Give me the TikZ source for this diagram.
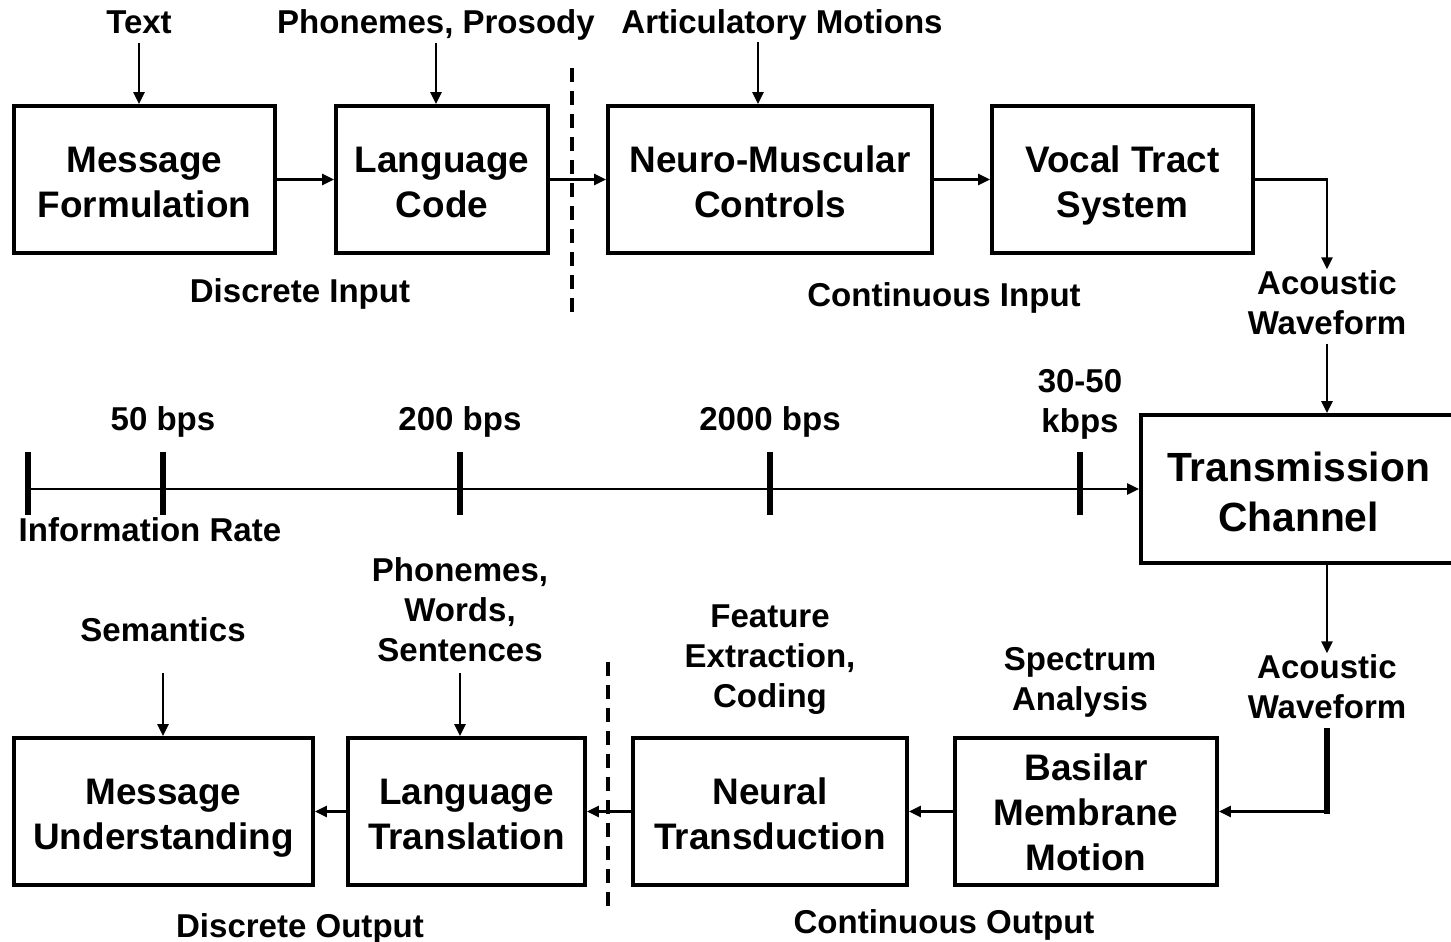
\documentclass[tikz,border=0pt]{standalone}
\usepackage{fontspec}
\setmainfont{Liberation Sans}
\usetikzlibrary{arrows.meta}

\newcommand{\lblstrut}{\rule[-2.5pt]{0pt}{9.23pt}}

\tikzset{
    blk/.style={draw, line width=1.1pt, minimum height=1.47cm, inner sep=0pt, align=center,
        text height=22.28pt, text depth=0.54pt,
        font=\fontsize{10.5}{12.8}\selectfont\bfseries},
    lbl/.style={inner sep=0pt, align=center, yshift=-0.4mm,
        execute at begin node=\lblstrut, execute at end node=\lblstrut,
        font=\fontsize{9.4}{11.4}\selectfont\bfseries},
    conn/.style={line width=0.75pt, -{Triangle[length=1.2mm,width=1.1mm]}},
    ratetick/.style={line width=1.7pt},
    divider/.style={line width=1pt, dash pattern=on 1.4mm off 0.9mm}
}

\begin{document}
\begin{tikzpicture}[x=1cm,y=1cm]
                \useasboundingbox (0,0) rectangle (14.51,-9.42);
                
                % Speech production chain
                \node (msgform) [blk, minimum width=2.61cm] at (1.445,-1.795) {Message\\Formulation};
                \node (langcode) [blk, minimum width=2.12cm] at (4.42,-1.795) {Language\\Code};
                \node (neuro) [blk, minimum width=3.24cm] at (7.70,-1.795) {Neuro-Muscular\\Controls};
                \node (vocal) [blk, minimum width=2.61cm] at (11.225,-1.795) {Vocal Tract\\System};
                
                % Channel
                \node (trans) [blk, minimum width=3.15cm, minimum height=1.48cm,
                    text height=24.6pt, text depth=0.6pt,
                    font=\fontsize{11.6}{14.2}\selectfont\bfseries] at (12.985,-4.89) {Transmission\\Channel};
                
                % Speech perception chain
                \node (msgund) [blk, minimum width=2.99cm] at (1.635,-8.115) {Message\\Understanding};
                \node (langtr) [blk, minimum width=2.37cm] at (4.665,-8.115) {Language\\Translation};
                \node (neural) [blk, minimum width=2.74cm] at (7.70,-8.115) {Neural\\Transduction};
                \node (basilar) [blk, minimum width=2.62cm, text height=34.24pt] at (10.86,-8.115) {Basilar\\Membrane\\Motion};
                
                % Inputs on top
                \node (text) [lbl] at (1.39,-0.22) {Text};
                \node (phon) [lbl] at (4.36,-0.22) {Phonemes, Prosody};
                \node (artic) [lbl] at (7.82,-0.22) {Articulatory Motions};
                \coordinate (articin) at (7.58,-0.42);
                \draw [conn] (text.south) -- (text.south |- msgform.north);
                \draw [conn] (phon.south) -- (phon.south |- langcode.north);
                \draw [conn] (articin) -- (articin |- neuro.north);
                
                \node (discin) [lbl] at (3.00,-2.91) {Discrete Input};
                \node (contin) [lbl] at (9.44,-2.95) {Continuous Input};
                \draw [divider] (5.72,-0.68) -- (5.72,-3.15);
                
                % Production arrows
                \draw [conn] (msgform) -- (langcode);
                \draw [conn] (langcode) -- (neuro);
                \draw [conn] (neuro) -- (vocal);
                
                % Acoustic waveform in
                \node (wavein) [lbl] at (13.27,-3.025) {Acoustic\\Waveform};
                \draw [conn] (vocal.east) -| (wavein.north);
                \draw [conn] (wavein.south) -- (wavein.south |- trans.north);
                
                % Information rate axis
                \coordinate (rate0) at (0.28,-4.89);
                \draw [conn] (rate0) -- (trans.west);
                \foreach \tx in {0.28,1.63,4.60,7.70,10.80}
                    \draw [ratetick] (\tx,-4.52) -- (\tx,-5.15);
                \node (rate1) [lbl] at (1.63,-4.19) {50 bps};
                \node (rate2) [lbl] at (4.60,-4.19) {200 bps};
                \node (rate3) [lbl] at (7.70,-4.19) {2000 bps};
                \node (rate4) [lbl] at (10.80,-4.015) {30-50\\kbps};
                \node (ratename) [lbl, anchor=west] at (0.18,-5.30) {Information Rate};
                
                % Acoustic waveform out
                \node (waveout) [lbl] at (13.27,-6.865) {Acoustic\\Waveform};
                \coordinate (bend) at (waveout.south |- basilar.east);
                \draw [conn] (trans.south -| waveout) -- (waveout.north);
                \draw [line width=1.6pt] (waveout.south) -- ([yshift=-0.3mm]bend);
                \draw [conn] ([xshift=0.8pt]bend) -- (basilar.east);
                
                % Perception arrows
                \draw [conn] (basilar) -- (neural);
                \draw [conn] (neural) -- (langtr);
                \draw [conn] (langtr) -- (msgund);
                
                % Labels of the perception side
                \node (sem) [lbl] at (1.63,-6.30) {Semantics};
                \node (pws) [lbl] at (4.60,-6.10) {Phonemes,\\Words,\\Sentences};
                \node (feat) [lbl] at (7.70,-6.567) {Feature\\Extraction,\\Coding};
                \node (spec) [lbl] at (10.80,-6.795) {Spectrum\\Analysis};
                \draw [conn, shorten <=2.2mm] (sem.south) -- (sem.south |- msgund.north);
                \draw [conn, shorten <=0.2mm] (pws.south) -- (pws.south |- langtr.north);
                
                \node (discout) [lbl] at (3.00,-9.26) {Discrete Output};
                \node (contout) [lbl] at (9.44,-9.22) {Continuous Output};
                \draw [divider] (6.08,-6.62) -- (6.08,-9.10);
\end{tikzpicture}
\end{document}
